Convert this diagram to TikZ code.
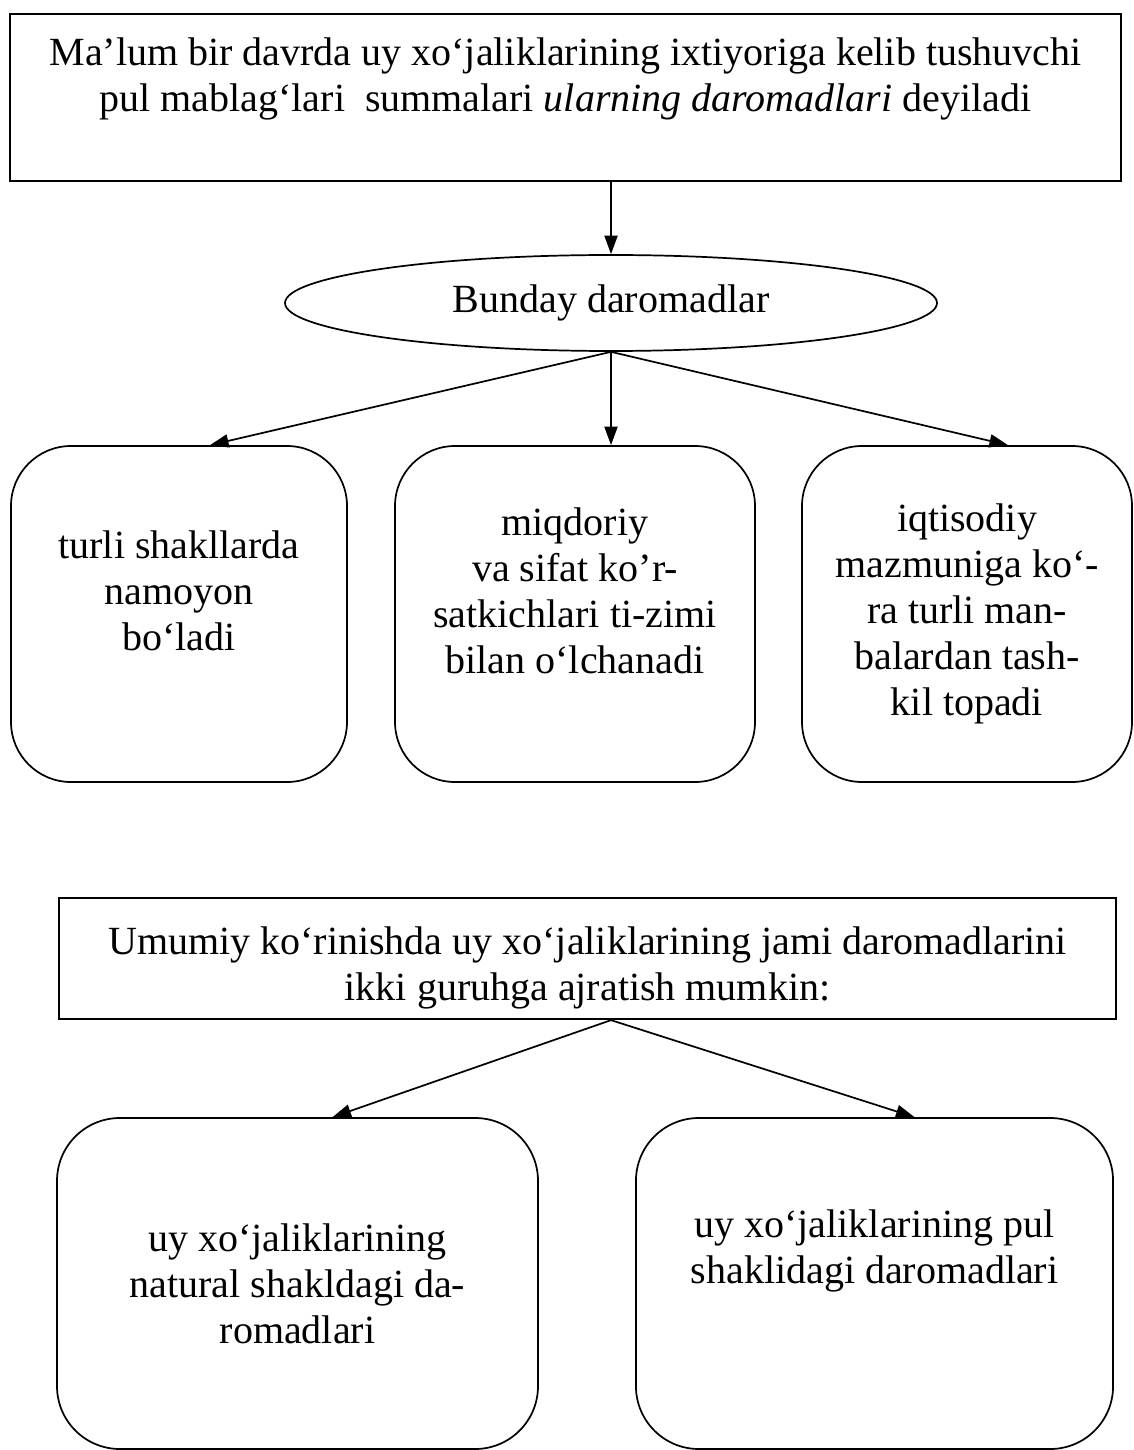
\documentclass[tikz,border=0pt]{standalone}
\usepackage{fontspec}
\setmainfont{Liberation Serif}
\usetikzlibrary{arrows.meta, positioning, calc, shapes.geometric}

\begin{document}
\begin{tikzpicture}[
  x=0.35pt, y=-0.35pt,
  font=\fontsize{14}{16.1}\selectfont,
  every node/.style={inner sep=0pt, align=center},
  plainbox/.style={draw, line width=0.8pt},
  roundbox/.style={draw, line width=0.6pt, rounded corners=21pt},
  oval/.style={draw, ellipse, line width=0.6pt},
  link/.style={line width=0.6pt, -{Triangle[length=6.5pt, width=4.6pt]}}
]
  \useasboundingbox (0,0) rectangle (1133,1450);

  \node[plainbox, minimum width=388.9pt, minimum height=58.45pt] (intro) at (565.5,97.5)
    {Ma’lum bir davrda uy xo‘jaliklarining ixtiyoriga kelib tushuvchi\\
     pul mablag‘lari\ \ summalari \textit{ularning daromadlari} deyiladi\\\mbox{}};
  \node[oval, minimum width=228.2pt, minimum height=33.6pt] (bunday) at (611,303)
    {Bunday daromadlar};

  \node[roundbox, minimum width=117.6pt, minimum height=117.6pt] (shakl) at (179,614)
    {turli shakllarda\\namoyon\\bo‘ladi\\\mbox{}};
  \node[roundbox, minimum width=126pt, minimum height=117.6pt] (miqdor) at (575,614)
    {miqdoriy\\va sifat ko’r-\\satkichlari ti-zimi\\bilan o‘lchanadi\\\mbox{}};
  \node[roundbox, minimum width=115.5pt, minimum height=117.6pt] (manba) at (967,614)
    {iqtisodiy\\mazmuniga ko‘-\\ra turli man-\\balardan tash-\\kil topadi};

  \draw[link] (bunday.north |- intro.south) -- (bunday.north);
  \draw[link] (bunday.south) -- ($(shakl.north)+(31,0)$);
  \draw[link] (bunday.south) -- (miqdor.north -| bunday.south);
  \draw[link] (bunday.south) -- ($(manba.north)+(41,0)$);

  \node[plainbox, minimum width=370pt, minimum height=42.35pt] (umumiy) at (587.5,958.5)
    {\rule{0pt}{16.5pt}Umumiy ko‘rinishda uy xo‘jaliklarining jami daromadlarini\\
     ikki guruhga ajratish mumkin:};

  \node[roundbox, rounded corners=22pt, minimum width=168.35pt, minimum height=115.85pt]
    (natural) at (297.5,1283.5)
    {uy xo‘jaliklarining\\natural shakldagi da-\\romadlari};
  \node[roundbox, rounded corners=22pt, minimum width=167pt, minimum height=115.85pt]
    (pul) at (874.5,1283.5)
    {uy xo‘jaliklarining pul\\shaklidagi daromadlari\\[10pt]\mbox{}};

  \draw[link] ($(umumiy.south)+(23.5,0)$) -- ($(natural.north)+(35,0)$);
  \draw[link] ($(umumiy.south)+(23.5,0)$) -- ($(pul.north)+(40,0)$);
\end{tikzpicture}
\end{document}
